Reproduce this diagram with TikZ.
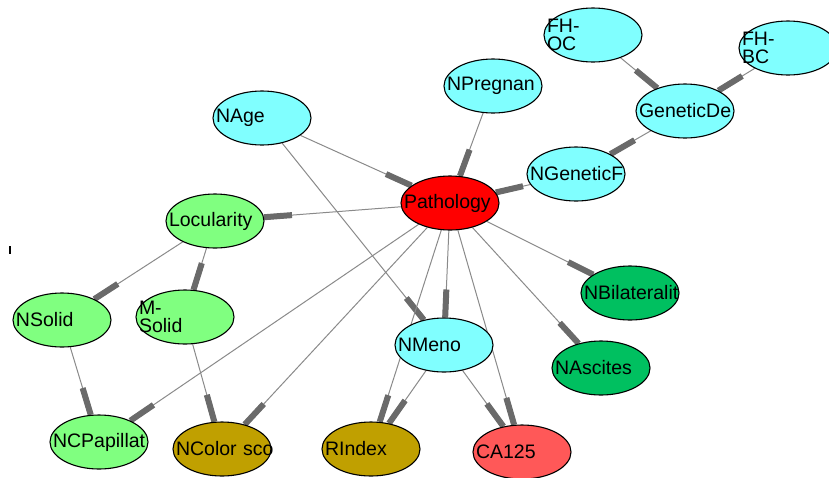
\documentclass[tikz,border=0pt]{standalone}
\usepackage{fontspec}
\setmainfont{Liberation Sans}
\usetikzlibrary{shapes.geometric,arrows.meta}
\pgfdeclarelayer{background}
\pgfsetlayers{background,main}
\definecolor{ncyan}{HTML}{80FFFF}
\definecolor{nred}{HTML}{FF0000}
\definecolor{nlgreen}{HTML}{80FF80}
\definecolor{ndgreen}{HTML}{00C060}
\definecolor{nolive}{HTML}{C0A000}
\definecolor{nsalmon}{HTML}{FF5858}
\definecolor{linegray}{HTML}{8A8A8A}
\definecolor{bargray}{HTML}{6A6A6A}

\begin{document}
\begin{tikzpicture}[x=1pt,y=-1pt,
  bn/.style={ellipse,draw=black,line width=1.1pt,fill=#1,minimum width=98pt,minimum height=54pt,
    inner ysep=0pt,inner xsep=-11.35pt,text width=92pt,align=left,font=\fontsize{19.5}{18}\selectfont},
  dep/.style={draw=linegray,line width=1pt,-{Rectangle[length=28pt,width=6pt,color=bargray]}}]
\useasboundingbox (0,0) rectangle (829,477);

\node[bn=ncyan] (A1) at (593,35) {FH-\\OC};
\node[bn=ncyan] (A2) at (788,48) {FH-\\BC};

\node[bn=ncyan] (B1) at (262,118) {NAge};
\node[bn=ncyan] (B2) at (493,86) {NPregnan};
\node[bn=ncyan] (B3) at (685,111) {GeneticDe};

\node[bn=nlgreen] (C1) at (215,221) {Locularity};
\node[bn=nred] (C2) at (450,203) {Pathology};
\node[bn=ncyan] (C3) at (576,174) {NGeneticF};

\node[bn=nlgreen] (D1) at (62,320) {NSolid};
\node[bn=nlgreen] (D2) at (185,317) {M-\\Solid};
\node[bn=ncyan] (D3) at (444,345) {NMeno};
\node[bn=ndgreen] (D4) at (630,293) {\mbox{NBilateralit}};
\node[bn=ndgreen] (D5) at (601,368) {NAscites};

\node[bn=nlgreen] (E1) at (99,442) {NCPapillat};
\node[bn=nolive] (E2) at (222,449) {\mbox{NColor sco}};
\node[bn=nolive] (E3) at (371,449) {RIndex};
\node[bn=nsalmon] (E4) at (522,452) {CA125};

\fill (9,246) rectangle (11,254);

\begin{pgfonlayer}{background}
\path[dep] (A1) edge [] (B3);
\path[dep] (A2) edge [] (B3);
\path[dep] (B3) edge [] (C3);
\path[dep] (C3) edge [] (C2);
\path[dep] (B2) edge [] (C2);
\path[dep] (B1) edge [] (C2);
\path[dep] (B1) edge [] (D3);

\path[dep] (C2) edge [] (C1);
\path[dep] (C1) edge [] (D1);
\path[dep] (C1) edge [] (D2);
\path[dep] (D1) edge [] (E1);
\path[dep] (D2) edge [] (E2);

\path[dep] (C2) edge [] (E1);
\path[dep] (C2) edge [] (E2);
\path[dep] (C2) edge [] (D3);
\path[dep] (C2) edge [] (E3);
\path[dep] (D3) edge [] (E3);
\path[dep] (C2) edge [] (E4);
\path[dep] (D3) edge [] (E4);
\path[dep] (C2) edge [] (D5);
\path[dep] (C2) edge [] (D4);
\end{pgfonlayer}
\end{tikzpicture}
\end{document}
